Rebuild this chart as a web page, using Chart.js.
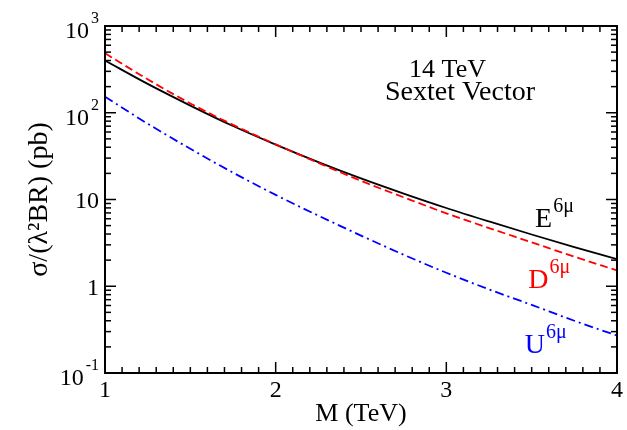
<!DOCTYPE html>
<html>
<head>
<meta charset="utf-8">
<script src="https://cdn.jsdelivr.net/npm/chart.js@4.4.1/dist/chart.umd.min.js"></script>
<style>
  html, body { margin: 0; padding: 0; background: #fff; }
  #wrap { width: 627px; height: 430px; }
</style>
</head>
<body>
<div id="wrap"><canvas id="chart" width="627" height="430"></canvas></div>
<script>
// resonance mass M (TeV)
const masses = [1, 1.25, 1.5, 1.75, 2, 2.25, 2.5, 2.75, 3, 3.25, 3.5, 3.75, 4];
// sigma/(lambda^2 BR) in pb
const sigmaE = [400, 215, 121, 70.3, 42.9, 27.0, 17.5, 11.7, 7.98, 5.58, 3.95, 2.83, 2.05];
const sigmaD = [485, 243, 128, 72.6, 43.3, 26.4, 16.4, 10.6, 6.93, 4.69, 3.21, 2.19, 1.52];
const sigmaU = [153, 74.8, 38.4, 20.4, 11.3, 6.52, 3.84, 2.31, 1.43, 0.92, 0.61, 0.40, 0.27];

// axis ticks
const xTickValues = [1, 2, 3, 4];
const yTickValues = [0.1, 1, 10, 100, 1000];
const yTickLabels = ['10^-1', '1', '10', '10^2', '10^3'];

// curve labels (base, superscript, position in data units)
const curveNames = ['E', 'D', 'U'];
const curveSups = ['6μ', '6μ', '6μ'];
const curveLabelX = [3.52, 3.48, 3.46];
const curveLabelY = [4.8, 0.95, 0.17];
const curveColors = ['#000000', '#ff0000', '#0000ff'];

const serif = "'Liberation Serif', 'Times New Roman', serif";

function pts(ys) {
  return masses.map((m, i) => ({ x: m, y: ys[i] }));
}

// frame, inward ticks, y labels with exponents, text
const decorations = {
  id: 'decorations',
  afterDraw(chart) {
    const ctx = chart.ctx;
    const a = chart.chartArea;
    const xs = chart.scales.x;
    const ys = chart.scales.y;
    ctx.save();
    ctx.strokeStyle = '#000';
    ctx.lineWidth = 2;
    ctx.strokeRect(a.left, a.top, a.right - a.left, a.bottom - a.top);

    ctx.lineWidth = 1.5;
    const seg = (x1, y1, x2, y2) => {
      ctx.beginPath(); ctx.moveTo(x1, y1); ctx.lineTo(x2, y2); ctx.stroke();
    };
    for (let i = 10; i <= 40; i++) {
      const px = xs.getPixelForValue(i / 10);
      const len = i % 10 === 0 ? 11 : 6;
      seg(px, a.bottom, px, a.bottom - len);
      seg(px, a.top, px, a.top + len);
    }
    for (let e = -1; e <= 3; e++) {
      for (let m = 1; m <= 9; m++) {
        const v = m * Math.pow(10, e);
        if (v > 1000) break;
        const py = ys.getPixelForValue(v);
        const len = m === 1 ? 11 : 6;
        seg(a.left, py, a.left + len, py);
        seg(a.right, py, a.right - len, py);
      }
    }

    // y tick labels
    ctx.fillStyle = '#000';
    ctx.textBaseline = 'middle';
    ctx.textAlign = 'left';
    yTickValues.forEach((v, i) => {
      const py = ys.getPixelForValue(v);
      const parts = yTickLabels[i].split('^');
      const right = a.left - 6;
      if (parts.length === 1) {
        ctx.font = '24px ' + serif;
        const w = ctx.measureText(parts[0]).width;
        ctx.fillText(parts[0], right - w, py + 2);
      } else {
        ctx.font = '16px ' + serif;
        const we = ctx.measureText(parts[1]).width;
        ctx.fillText(parts[1], right - we, py - 7);
        ctx.font = '24px ' + serif;
        const wb = ctx.measureText(parts[0]).width;
        ctx.fillText(parts[0], right - we - 2 - wb, py + 6);
      }
    });

    // curve labels
    ctx.textBaseline = 'alphabetic';
    curveNames.forEach((n, i) => {
      const px = xs.getPixelForValue(curveLabelX[i]);
      const py = ys.getPixelForValue(curveLabelY[i]);
      ctx.fillStyle = curveColors[i];
      ctx.font = '28px ' + serif;
      ctx.fillText(n, px, py);
      const w = ctx.measureText(n).width;
      ctx.font = '20px ' + serif;
      ctx.fillText(curveSups[i], px + w + 1, py - 15);
    });

    // process text
    ctx.fillStyle = '#000';
    ctx.textAlign = 'center';
    ctx.font = '26px ' + serif;
    ctx.fillText('14 TeV', xs.getPixelForValue(3.007), ys.getPixelForValue(258));
    ctx.font = '28px ' + serif;
    ctx.fillText('Sextet Vector', xs.getPixelForValue(3.08), ys.getPixelForValue(140));
    ctx.restore();
  }
};

new Chart(document.getElementById('chart'), {
  type: 'line',
  data: {
    datasets: [
      {
        label: 'U',
        data: pts(sigmaU),
        borderColor: '#0000ff',
        borderWidth: 1.8,
        borderDash: [9, 4, 2, 4]
      },
      {
        label: 'D',
        data: pts(sigmaD),
        borderColor: '#ff0000',
        borderWidth: 1.8,
        borderDash: [8, 4]
      },
      {
        label: 'E',
        data: pts(sigmaE),
        borderColor: '#000000',
        borderWidth: 1.8
      }
    ]
  },
  options: {
    responsive: false,
    animation: false,
    layout: { padding: { left: 0, right: 10, top: 26, bottom: 0 } },
    plugins: { legend: { display: false }, tooltip: { enabled: false } },
    elements: {
      point: { radius: 0 },
      line: { cubicInterpolationMode: 'monotone', fill: false }
    },
    scales: {
      x: {
        type: 'linear',
        min: 1,
        max: 4,
        afterBuildTicks: s => { s.ticks = xTickValues.map(v => ({ value: v })); },
        ticks: {
          font: { family: serif, size: 24 },
          color: '#000',
          padding: 3,
          maxRotation: 0,
          autoSkip: false,
          callback: v => String(v)
        },
        grid: { display: false, drawTicks: false },
        border: { display: false },
        title: {
          display: true,
          text: 'M (TeV)',
          font: { family: serif, size: 26 },
          color: '#000',
          padding: 0
        },
        afterFit: s => { s.height = 57; }
      },
      y: {
        type: 'logarithmic',
        min: 0.1,
        max: 1000,
        ticks: { display: false },
        grid: { display: false, drawTicks: false },
        border: { display: false },
        title: {
          display: true,
          text: 'σ/(λ²BR) (pb)',
          font: { family: serif, size: 28 },
          color: '#000',
          padding: { top: 23, bottom: 0 }
        },
        afterFit: s => { s.width = 105; }
      }
    }
  },
  plugins: [decorations]
});
</script>
</body>
</html>
